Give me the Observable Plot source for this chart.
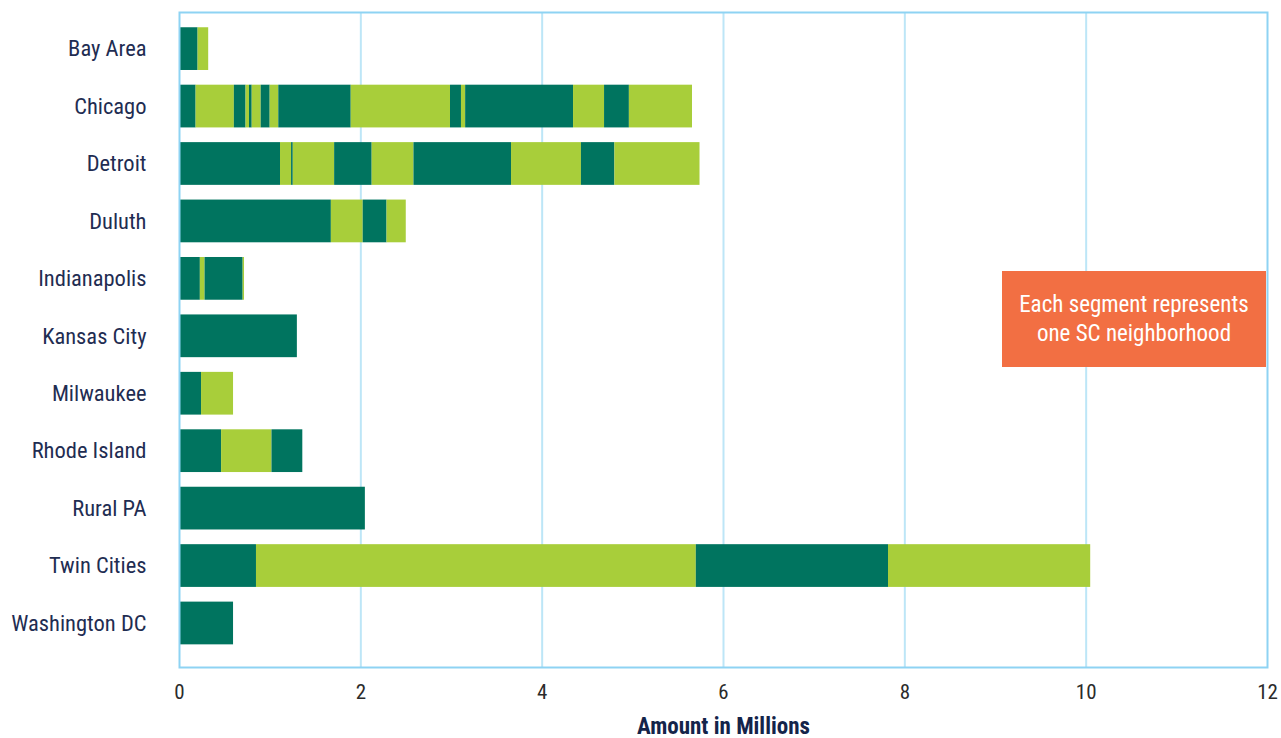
<!DOCTYPE html>
<html>
<head>
<meta charset="utf-8">
<script src="https://cdn.jsdelivr.net/npm/d3@7"></script>
<script src="https://cdn.jsdelivr.net/npm/@observablehq/plot@0.6"></script>
<style>
  html, body { margin: 0; padding: 0; background: #fff; overflow: hidden; }
  #wrap { position: relative; width: 1281px; height: 738px; }
  #note {
    position: absolute; left: 1002px; top: 271px; width: 264px; height: 96px;
    background: #F26F43; color: #fff; display: flex; align-items: center; justify-content: center;
    text-align: center; font-family: "Roboto Condensed", Roboto, sans-serif;
    font-size: 23px; line-height: 29px;
  }
</style>
</head>
<body>
<div id="wrap"><div id="note">Each segment represents<br>one SC neighborhood</div></div>
<script>
const cities = ["Bay Area", "Chicago", "Detroit", "Duluth", "Indianapolis", "Kansas City",
  "Milwaukee", "Rhode Island", "Rural PA", "Twin Cities", "Washington DC"];

// segment amounts (millions), in stacking order
const bayArea = [0.205, 0.117];
const chicago = [0.183, 0.422, 0.129, 0.038, 0.030, 0.099, 0.099, 0.095, 0.799, 1.095, 0.121, 0.046, 1.190, 0.342, 0.274, 0.696];
const detroit = [1.114, 0.122, 0.019, 0.456, 0.414, 0.461, 1.076, 0.771, 0.369, 0.939];
const duluth = [1.675, 0.351, 0.263, 0.212];
const indianapolis = [0.230, 0.052, 0.420, 0.015];
const kansasCity = [1.30];
const milwaukee = [0.243, 0.353];
const rhodeIsland = [0.464, 0.556, 0.340];
const ruralPA = [2.05];
const twinCities = [0.849, 4.851, 2.12, 2.23];
const washingtonDC = [0.596];

const xTicks = [0, 2, 4, 6, 8, 10, 12];
const shades = ["dark", "light"];
const shadeColors = ["#00745F", "#A8CE3A"];

const series = [bayArea, chicago, detroit, duluth, indianapolis, kansasCity,
  milwaukee, rhodeIsland, ruralPA, twinCities, washingtonDC];

const rows = [];
series.forEach((vals, ci) => {
  vals.forEach((v, i) => rows.push({city: cities[ci], value: v, shade: shades[i % 2], idx: i}));
});

const font = '"Roboto Condensed", Roboto, sans-serif';

const chart = Plot.plot({
  width: 1281,
  height: 738,
  marginLeft: 179,
  marginRight: 14,
  marginTop: 12,
  marginBottom: 71,
  style: {fontFamily: font, fontSize: "21px", background: "#fff"},
  x: {domain: [0, 12]},
  y: {domain: cities, range: [19.9, 651.7], paddingInner: 0.256, paddingOuter: 0.128, round: false},
  color: {domain: shades, range: shadeColors},
  marks: [
    Plot.gridX({ticks: [2, 4, 6, 8, 10], stroke: "#BDE6F7", strokeOpacity: 1, strokeWidth: 2}),
    Plot.barX(rows, {x: "value", y: "city", fill: "shade", order: null}),
    Plot.frame({stroke: "#8ED3F3", strokeWidth: 2}),
    Plot.axisX({ticks: xTicks, tickSize: 0, tickPadding: 17, fontSize: 21, fill: "#2b2b2b", label: null}),
    Plot.axisY({tickSize: 0, tickPadding: 33, fontSize: 22.5, fill: "#1F2D52", label: null}),
    Plot.text(["Amount in Millions"], {frameAnchor: "bottom", dy: 66, text: d => d,
      fontSize: 23, fontWeight: "bold", fill: "#14244A"})
  ]
});
document.getElementById("wrap").prepend(chart);
</script>
</body>
</html>
